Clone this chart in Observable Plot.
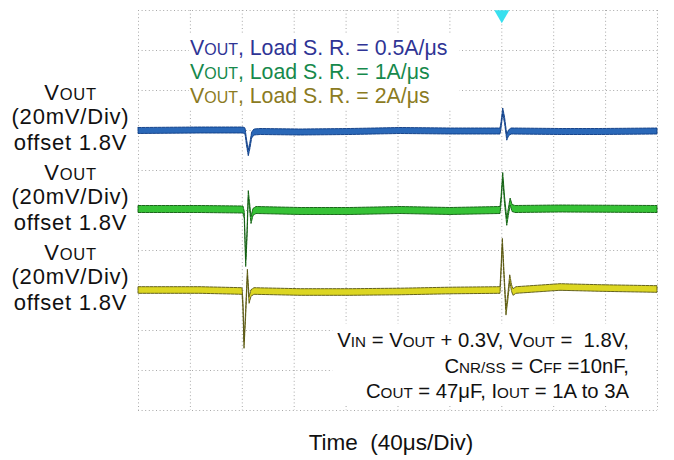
<!DOCTYPE html>
<html><head><meta charset="utf-8">
<script src="https://cdn.jsdelivr.net/npm/d3@7"></script>
<script src="https://cdn.jsdelivr.net/npm/@observablehq/plot@0.6"></script>
<style>html,body{margin:0;padding:0;background:#fff}</style>
</head><body><div id="chart"></div>
<script>
// ---- data ----
const gridTimesUs = [0, 40, 80, 120, 160, 200, 240, 280, 320, 360, 400];
const gridDivs = [-5, -4, -3, -2, -1, 0, 1, 2, 3, 4, 5];
const triggerTimeUs = 280;
const mvPerDiv = 20;
const channelOffsetDiv = [2, 0, -2];
const noiseHalfMv = [1.5, 1.75, 1.65];
const slewRates = ["0.5A/μs", "1A/μs", "2A/μs"];

const blueTimeUs = [0, 47.8, 80.9, 82.5, 83.6, 85.0, 86.3, 87.6, 89.4, 94.0, 124.9, 163.4, 201.9, 240.5, 279.0, 279.8, 281.1, 282.5, 284.2, 285.5, 287.5, 325.2, 356.0, 400];
const blueMv = [-0.25, 0, 0, -0.5, -6, -11.4, -7.5, -2.5, -1, -0.75, -1, -0.75, -0.25, -0.5, -0.5, 2.5, 9.5, 5, -3.6, -1.5, -0.5, -0.75, -0.75, -0.5];

const greenTimeUs = [0, 47.8, 80.9, 81.9, 83.0, 84.0, 85.0, 85.9, 87.1, 88.6, 90.9, 124.9, 163.4, 201.9, 240.5, 279.0, 279.8, 281.1, 282.5, 284.2, 285.4, 286.8, 288.3, 290.6, 325.2, 400];
const greenMv = [0.5, 0.5, 0.25, -2.5, -26.5, -12.5, 8, 2.5, -5, -1, 0, -0.5, -0.5, 0, -0.5, 0, 5, 17, 5, -5.9, -1, 4.2, 1, 0.5, 0.75, 0.5];

const yellowTimeUs = [0, 47.8, 80.2, 80.9, 81.7, 82.9, 84.3, 85.6, 87.1, 89.4, 124.9, 163.4, 201.9, 240.5, 279.0, 279.8, 280.8, 282.1, 283.6, 285.2, 286.5, 287.9, 289.0, 291.3, 325.2, 356.0, 400];
const yellowMv = [0, 0, -0.5, -7.5, -27.5, -12.5, 8.7, -5, -1.5, -0.5, -1, -1, -0.75, -0.25, 0, 10, 24.2, 7.5, -10.9, -2.5, 6, 1, -1, 0, 1.5, 1, 0.5];

// ---- styles ----
const FONT = "'Liberation Sans', Arial, Helvetica, sans-serif";
const traceFill = ["#2a68b8", "#36c236", "#dcd622"];
const traceEdge = ["#0c3a82", "#0d5a0d", "#55520f"];
const legendColor = ["#2f3495", "#16894c", "#8b7b22"];

function rows(times, mvs, ch) {
  const off = channelOffsetDiv[ch], h = noiseHalfMv[ch];
  return times.map((t, i) => ({
    t,
    y: off + mvs[i] / mvPerDiv,
    lo: off + (mvs[i] - h) / mvPerDiv,
    hi: off + (mvs[i] + h) / mvPerDiv
  }));
}
const traces = [
  rows(blueTimeUs, blueMv, 0),
  rows(greenTimeUs, greenMv, 1),
  rows(yellowTimeUs, yellowMv, 2)
];

const gridStyle = {stroke: "#a8a8a8", strokeWidth: 1, strokeDasharray: "1,2.6"};

const svg = Plot.plot({
  width: 674, height: 460,
  marginLeft: 138, marginRight: 17, marginTop: 10, marginBottom: 50,
  x: {domain: [0, 400], axis: null},
  y: {domain: [-5, 5], axis: null},
  style: {background: "#fff", fontFamily: FONT},
  marks: [
    Plot.ruleX(gridTimesUs, {x: d => d, ...gridStyle}),
    Plot.ruleY(gridDivs, {y: d => d, ...gridStyle}),
    ...traces.map((data, i) => Plot.areaY(data, {
      x: "t", y1: "lo", y2: "hi",
      fill: traceFill[i], stroke: traceEdge[i], strokeWidth: 0.9, strokeDasharray: "3,1"
    })),
    Plot.dot([triggerTimeUs], {x: d => d, y: () => 5, dy: 4, symbol: "triangle", rotate: 180, r: 5.6, fill: "#38e0ef", stroke: "none"})
  ]
});
document.getElementById("chart").appendChild(svg);

const xs = svg.scale("x"), ys = svg.scale("y");
const g = d3.select(svg).append("g").attr("font-family", FONT);

function addText(parent, x, y, parts, fs, color, anchor, extra) {
  const t = parent.append("text")
    .attr("x", x).attr("y", y)
    .attr("text-anchor", anchor)
    .attr("font-size", fs)
    .attr("fill", color)
    .style("white-space", "pre");
  if (extra) extra(t);
  parts.forEach(([s, sub]) => {
    const sp = t.append("tspan").text(s);
    if (sub) sp.attr("font-size", fs * 0.75);
  });
  return t;
}

// Left channel labels
channelOffsetDiv.forEach(off => {
  const cy = ys.apply(off);
  const ls = t => t.attr("letter-spacing", 0.8);
  addText(g, 70.5, cy - 30, [["V", 0], ["OUT", 1]], 22, "#111", "middle", ls);
  addText(g, 70.5, cy - 6, [["(20mV/Div)", 0]], 22, "#111", "middle", ls);
  addText(g, 70.5, cy + 20, [["offset 1.8V", 0]], 22, "#111", "middle", ls);
});

// Legend (with white backing box)
const lg = g.append("g");
const lgBox = lg.append("rect").attr("fill", "#fff");
slewRates.forEach((sr, i) => {
  addText(lg, 190, 55 + i * 24, [["V", 0], ["OUT", 1], [", Load S. R. = " + sr, 0]], 21.3, legendColor[i], "start");
});
{
  const b = lg.node().getBBox();
  lgBox.attr("x", b.x - 1).attr("y", b.y - 2).attr("width", b.width + 13).attr("height", b.height + 4);
}

// Conditions annotation (with white backing box)
const an = g.append("g");
const anBox = an.append("rect").attr("fill", "#fff");
const annX = 629;
addText(an, annX, 346.5, [["V", 0], ["IN", 1], [" = V", 0], ["OUT", 1], [" + 0.3V, V", 0], ["OUT", 1], [" =  1.8V,", 0]], 20.3, "#111", "end");
addText(an, annX, 373, [["C", 0], ["NR/SS", 1], [" = C", 0], ["FF", 1], [" =10nF,", 0]], 20.3, "#111", "end");
addText(an, annX, 397.5, [["C", 0], ["OUT", 1], [" = 47μF, I", 0], ["OUT", 1], [" = 1A to 3A", 0]], 20.3, "#111", "end");
{
  const b = an.node().getBBox();
  const right = xs.apply(400) - 1;
  anBox.attr("x", b.x - 5).attr("y", b.y - 5).attr("width", right - (b.x - 5)).attr("height", b.height + 8);
}

// X title
addText(g, 391, 450, [["Time  (40μs/Div)", 0]], 22.5, "#111", "middle");
</script>
</body></html>
